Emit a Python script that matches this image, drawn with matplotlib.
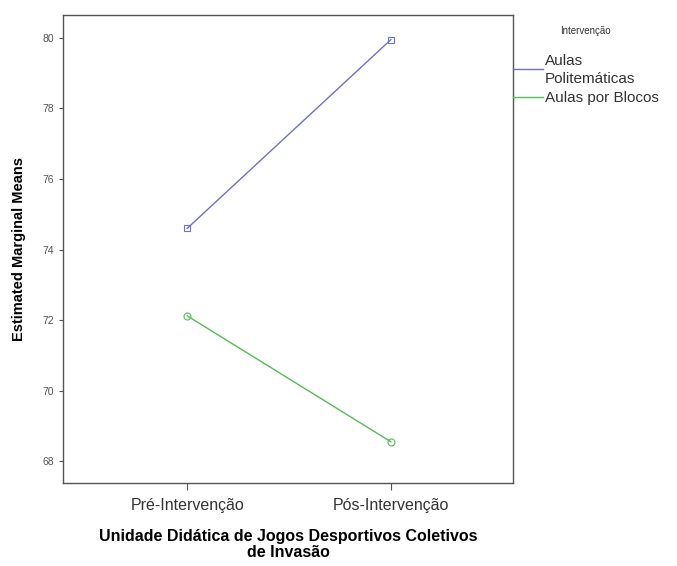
import matplotlib.pyplot as plt

plt.rcParams['font.family'] = ['Liberation Sans', 'DejaVu Sans']

categories = ["Pré-Intervenção", "Pós-Intervenção"]
politematicas = [74.6, 79.95]
blocos = [72.12, 68.55]
series_names = ["Aulas\nPolitemáticas", "Aulas por Blocos"]
yticks = [68, 70, 72, 74, 76, 78, 80]

fig = plt.figure(figsize=(6.77, 5.66), dpi=100)
ax = fig.add_axes([63 / 677, 1 - 483 / 566, 450 / 677, 468 / 566])

x = list(range(len(categories)))
blue = "#6f6fcf"
green = "#55bb55"
ax.plot(x, politematicas, color=blue, lw=1, marker="s", mfc="none", ms=4.5, mew=0.8)
ax.plot(x, blocos, color=green, lw=1, marker="o", mfc="none", ms=5, mew=0.8)

ax.set_xlim(-0.61, 1.6)
ax.set_ylim(67.38, 80.65)
ax.set_xticks(x)
ax.set_xticklabels(categories, fontsize=11.5, color="#333333")
ax.set_yticks(yticks)
ax.set_yticklabels([str(v) for v in yticks], fontsize=7.5, color="#555555")
ax.tick_params(axis="both", length=3, width=0.8, color="#555555")
ax.tick_params(axis="x", length=5, pad=6)
for s in ax.spines.values():
    s.set_color("#555555")
    s.set_linewidth(1)

ax.set_ylabel("Estimated Marginal Means", fontsize=10.5, fontweight="bold", labelpad=12)
ax.set_xlabel("Unidade Didática de Jogos Desportivos Coletivos\nde Invasão",
              fontsize=11.5, fontweight="bold", labelpad=11, linespacing=1.1)

# legend drawn on the right side like SPSS
fig.text(560 / 677, 1 - 31 / 566, "Intervenção", fontsize=7, color="#333333", va="center")
for col, ly in zip([blue, green], [69, 97]):
    fig.add_artist(plt.Line2D([513 / 677, 543 / 677], [1 - ly / 566] * 2, color=col, lw=1))
fig.text(545 / 677, 1 - 70 / 566, series_names[0], fontsize=11, color="#333333",
         va="center", linespacing=1.35)
fig.text(545 / 677, 1 - 98 / 566, series_names[1], fontsize=11, color="#333333", va="center")

fig.savefig("out.png", dpi=100)
